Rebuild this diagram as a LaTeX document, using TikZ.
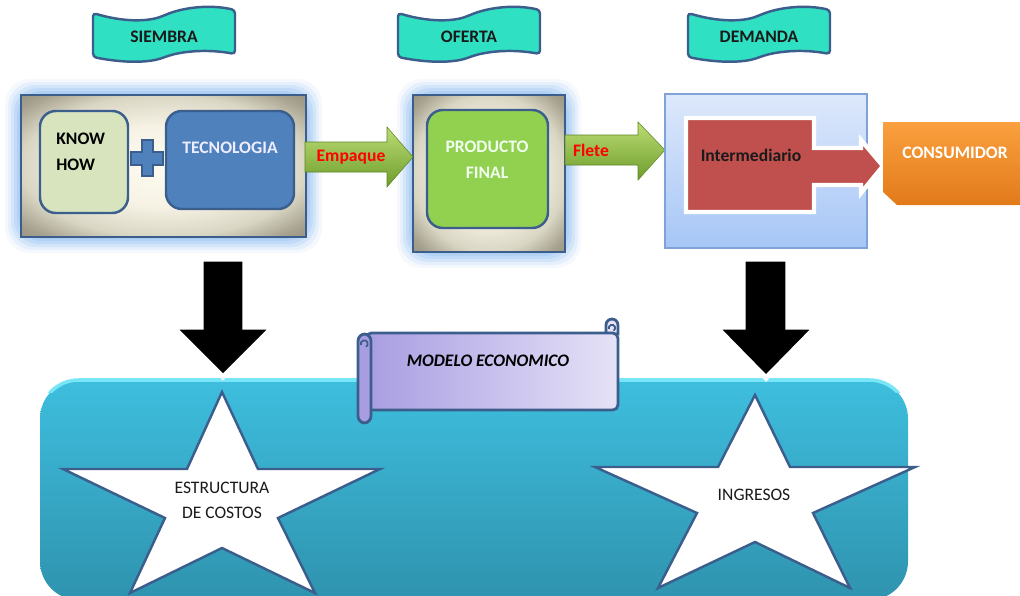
\documentclass[tikz,border=0pt]{standalone}
\usepackage{fontspec}
\setmainfont{Carlito}
\usetikzlibrary{fit}

\definecolor{edgeblue}{HTML}{3B5E8C}
\definecolor{bannerfill}{HTML}{2FE0C2}
\definecolor{glowblue}{HTML}{A9CCF4}
\definecolor{knowfill}{HTML}{D7E4BD}
\definecolor{tecfill}{HTML}{4F81BD}
\definecolor{prodfill}{HTML}{92D050}
\definecolor{greenL}{HTML}{BCDD74}
\definecolor{greenD}{HTML}{6E9C2C}
\definecolor{demtop}{HTML}{DDE8FB}
\definecolor{dembot}{HTML}{A6C6F6}
\definecolor{demedge}{HTML}{7FA3D6}
\definecolor{interfill}{HTML}{C0504D}
\definecolor{orangeT}{HTML}{FAA03E}
\definecolor{orangeB}{HTML}{E27A1A}
\definecolor{tealT}{HTML}{3EBEDE}
\definecolor{tealB}{HTML}{2F93AE}
\definecolor{tealEdge}{HTML}{78E6F7}
\definecolor{scrollL}{HTML}{A99DE2}
\definecolor{scrollR}{HTML}{E6E2F7}
\definecolor{labelred}{HTML}{FF0000}
\definecolor{textdark}{HTML}{1A1A1A}

% soft cream centre fading to a warm grey at the frame
\pgfdeclareradialshading{panelshade}{\pgfpoint{0bp}{0bp}}{%
  color(0bp)=(rgb,255:red,253;green,251;blue,240);
  color(14bp)=(rgb,255:red,246;green,243;blue,229);
  color(25bp)=(rgb,255:red,218;green,214;blue,196);
  color(32bp)=(rgb,255:red,166;green,162;blue,143);
  color(40bp)=(rgb,255:red,134;green,130;blue,112);
  color(50bp)=(rgb,255:red,118;green,114;blue,98)}

\tikzset{
  lbl/.style={font=\fontsize{10}{12}\selectfont\bfseries, inner sep=0pt},
  plainlbl/.style={font=\fontsize{10}{12}\selectfont, inner sep=0pt, text=textdark},
  banner/.style={draw=edgeblue, line width=1.4pt, fill=bannerfill, rounded corners=2pt},
  panel/.style={draw=edgeblue, line width=1.6pt, shading=panelshade, inner sep=0pt},
  innerbox/.style={draw=edgeblue, line width=1.4pt, rounded corners=9pt, inner sep=0pt},
  blockarrow/.style={top color=greenL, bottom color=greenD, draw=greenD!85!black, line width=0.3pt, line join=miter},
  downarrow/.style={fill=black, draw=white, line width=3pt, line join=miter},
  starshape/.style={fill=white, draw=edgeblue, line width=1.4pt, line join=miter},
  scrolledge/.style={draw=edgeblue, line width=1.6pt},
}

\begin{document}
\begin{tikzpicture}[x=0.02cm, y=-0.02cm]
\useasboundingbox (0,0) rectangle (1020,595);

% ---------- wavy banners ----------
\foreach \bx/\name/\txt in {93/siembra/SIEMBRA, 398/oferta/OFERTA, 688/demanda/DEMANDA}{
  \begin{scope}[shift={(\bx,0)}]
    \path[banner] (0,13) .. controls (30,22) and (55,22) .. (72,15)
      .. controls (90,8) and (115,4) .. (142,10) -- (142,54)
      .. controls (115,49) and (90,51) .. (72,57)
      .. controls (55,63) and (30,63) .. (0,57) -- cycle;
    \node[lbl, text=textdark] (\name) at (71,37) {\txt};
  \end{scope}
}

% ---------- glows behind the two framed panels ----------
\foreach \d/\o in {16/0.12, 13/0.2, 10/0.3, 7/0.45, 4/0.6, 2/0.8}{
  \fill[glowblue, opacity=\o, rounded corners=14pt] ({21-\d},{95-\d}) rectangle ({306+\d},{237+\d});
  \fill[glowblue, opacity=\o, rounded corners=14pt] ({413-\d},{95-\d}) rectangle ({565+\d},{252+\d});
}

% ---------- SIEMBRA panel ----------
\node[panel, fit={(21,95) (306,237)}] (panelsiembra) {};
\node[innerbox, fill=knowfill, fit={(40,111) (128,213)}] (know) {};
\node[innerbox, fill=tecfill, fit={(166,111) (294,209)}] (tec) {};
\path[fill=tecfill, draw=edgeblue, line width=1pt, line join=miter]
  (142,140) -- (153,140) -- (153,152) -- (163,152) -- (163,165) -- (153,165)
  -- (153,176) -- (142,176) -- (142,165) -- (131,165) -- (131,152) -- (142,152) -- cycle;
\node[lbl, text=black, anchor=west] (knowA) at (56,139) {KNOW};
\node[lbl, text=black, anchor=west] (knowB) at (56,165) {HOW};
\node[lbl, text=white!93!blue] (tectext) at (230,148) {TECNOLOGIA};

% ---------- OFERTA panel ----------
\node[panel, fit={(413,95) (565,252)}] (paneloferta) {};
\node[innerbox, fill=prodfill, fit={(427,110) (548,228)}] (prod) {};
\node[lbl, text=white!94!green] (prodA) at (487,147) {PRODUCTO};
\node[lbl, text=white!94!green] (prodB) at (487,173) {FINAL};

% ---------- green block arrows ----------
\path[blockarrow] (305,142) -- (387,142) -- (387,127) -- (413,157) -- (387,187) -- (387,172) -- (305,172) -- cycle;
\node[lbl, text=labelred] (empaque) at (351,157) {Empaque};
\path[blockarrow] (565,135) -- (638,135) -- (638,122) -- (665,150) -- (638,180) -- (638,165) -- (565,165) -- cycle;
\node[lbl, text=labelred] (flete) at (591,150) {Flete};

% ---------- DEMANDA panel ----------
\node[draw=demedge, line width=0.8pt, top color=demtop, bottom color=dembot, inner sep=0pt,
      fit={(665,94) (867,248)}] (paneldemanda) {};
\path[fill=interfill, draw=white, line width=2.5pt, line join=miter]
  (686,118) -- (814,118) -- (814,148) -- (861,148) -- (861,140) -- (883,166)
  -- (861,193) -- (861,185) -- (814,185) -- (814,212) -- (686,212) -- cycle;
\node[lbl, text=textdark] (inter) at (751,155) {Intermediario};

% ---------- CONSUMIDOR ----------
\path[top color=orangeT, bottom color=orangeB]
  (883,122) -- (1020,122) -- (1020,205) -- (897,205) -- (883,192) -- cycle;
\node[lbl, text=white] (consumidor) at (955,153) {CONSUMIDOR};

% ---------- economic model base ----------
\path[top color=tealT, bottom color=tealB, rounded corners=22pt] (40,380) rectangle (908,600);
\begin{scope}
  \clip (0,370) rectangle (1020,392);
  \draw[tealEdge, line width=2pt, rounded corners=22pt] (40,380) rectangle (908,600);
\end{scope}

% ---------- stars ----------
\path[starshape] (222,392) -- (258,469) -- (380,469) -- (278,518) -- (315,593)
  -- (222,548) -- (130,593) -- (165,518) -- (63,469) -- (187,469) -- cycle;
\node[plainlbl] (costosA) at (222,488) {ESTRUCTURA};
\node[plainlbl] (costosB) at (222,513) {DE COSTOS};
\path[starshape] (755,395) -- (790,467) -- (915,467) -- (813,513) -- (850,588)
  -- (755,542) -- (658,588) -- (697,513) -- (595,467) -- (718,467) -- cycle;
\node[plainlbl] (ingresos) at (754,495) {INGRESOS};

% ---------- scroll ----------
\path[scrolledge, fill=scrollR] (606,334) -- (606,325) arc[start angle=180, end angle=0, radius=3.4pt] -- (618,334) -- cycle;
\path[scrolledge, left color=scrollL, right color=scrollR, rounded corners=3pt]
  (366,333) -- (618,333) -- (618,410) -- (366,410) -- cycle;
\path[scrolledge, fill=scrollL, rounded corners=4pt] (358,334) rectangle (371,423);
\draw[edgeblue, line width=1pt] (361,345) arc[start angle=200, end angle=-60, radius=2pt];
\draw[edgeblue, line width=1pt] (609,329) arc[start angle=200, end angle=-60, radius=1.8pt];
\node[lbl, font=\fontsize{10}{12}\selectfont\bfseries\itshape, text=black] (modelo) at (488,361) {MODELO ECONOMICO};

% ---------- down arrows ----------
\path[downarrow] (201,259) -- (245,259) -- (245,327) -- (273,327) -- (223,377)
  -- (173,327) -- (201,327) -- cycle;
\path[downarrow] (743,259) -- (788,259) -- (788,327) -- (816,327) -- (766,378)
  -- (716,327) -- (743,327) -- cycle;
\end{tikzpicture}
\end{document}
